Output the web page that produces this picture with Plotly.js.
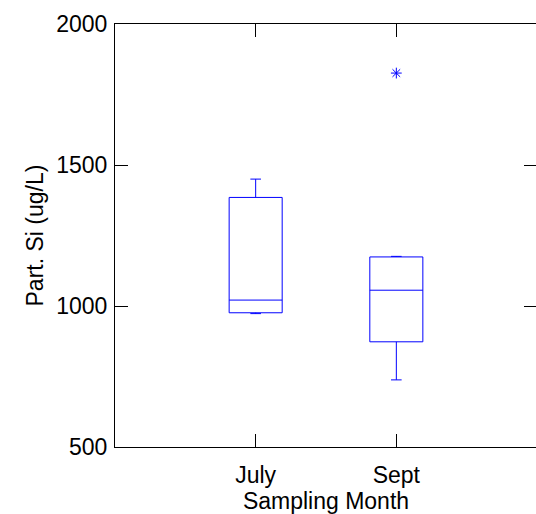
<!DOCTYPE html>
<html>
<head>
<meta charset="utf-8">
<script src="https://cdn.plot.ly/plotly-3.0.1.min.js"></script>
<style>
html,body{margin:0;padding:0;overflow:hidden;background:#fff;}
#chart{width:540px;height:514px;}
</style>
</head>
<body>
<div id="chart"></div>
<script>
// Data
var months = ['July', 'Sept'];
var lowerWhisker = [973, 738];
var q1Values = [976, 873];
var medianValues = [1021, 1056];
var q3Values = [1385, 1174];
var upperWhisker = [1450, 1176];
var outlierMonths = ['Sept'];
var outlierValues = [1826];
var yTicks = [500, 1000, 1500, 2000];

var fontFam = 'Liberation Sans, Arial, Helvetica, sans-serif';
var fs = 23;

var traces = [
  {
    type: 'box',
    x: months,
    q1: q1Values,
    median: medianValues,
    q3: q3Values,
    lowerfence: lowerWhisker,
    upperfence: upperWhisker,
    boxpoints: false,
    width: 0.377,
    whiskerwidth: 0.2,
    line: {color: '#0000ff', width: 1},
    fillcolor: 'rgba(0,0,0,0)',
    hoverinfo: 'skip',
    showlegend: false
  },
  {
    type: 'scatter',
    mode: 'markers',
    x: outlierMonths,
    y: outlierValues,
    marker: {symbol: 'asterisk-open', size: 9, color: '#0000ff', line: {color: '#0000ff', width: 1}},
    showlegend: false,
    hoverinfo: 'skip'
  }
];

var layout = {
  width: 540,
  height: 514,
  margin: {l: 115, r: 3, t: 24, b: 67, pad: 0},
  paper_bgcolor: '#ffffff',
  plot_bgcolor: '#ffffff',
  font: {family: fontFam, size: fs, color: '#000000'},
  xaxis: {
    type: 'category',
    range: [-1, 2],
    showline: true, linecolor: '#000', linewidth: 1, mirror: 'ticks',
    ticks: 'inside', ticklen: 13, tickcolor: '#000', tickwidth: 1,
    showgrid: false, zeroline: false,
    tickfont: {family: fontFam, size: fs, color: '#000'},
    ticklabelstandoff: 7,
    title: {text: 'Sampling Month', font: {family: fontFam, size: fs, color: '#000'}, standoff: 0}
  },
  yaxis: {
    range: [500, 2000],
    tickvals: yTicks,
    ticktext: yTicks.map(String),
    showline: true, linecolor: '#000', linewidth: 1, mirror: 'ticks',
    ticks: 'inside', ticklen: 13, tickcolor: '#000', tickwidth: 1,
    showgrid: false, zeroline: false,
    tickfont: {family: fontFam, size: fs, color: '#000'},
    ticklabelstandoff: 2
  },
  annotations: [{
    text: 'Part. Si (ug/L)',
    textangle: -90,
    xref: 'paper', yref: 'paper',
    x: (34 - 115) / 422, y: 0.5,
    xanchor: 'center', yanchor: 'middle',
    showarrow: false,
    font: {family: fontFam, size: fs, color: '#000'}
  }]
};

Plotly.newPlot('chart', traces, layout, {displayModeBar: false, staticPlot: true});
</script>
</body>
</html>
